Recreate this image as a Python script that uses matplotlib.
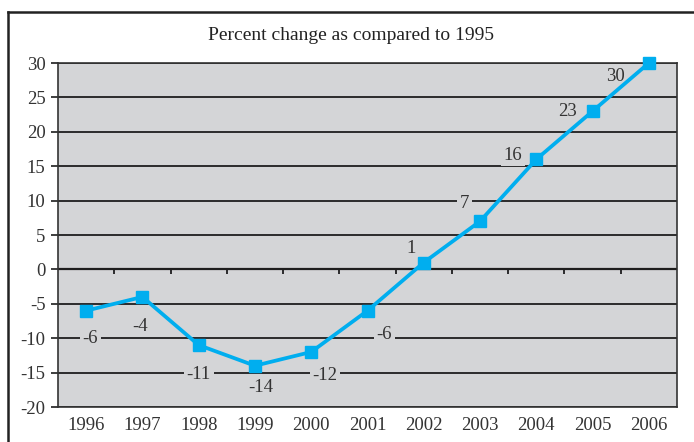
import matplotlib
matplotlib.use("Agg")
import matplotlib.pyplot as plt
from matplotlib.lines import Line2D

plt.rcParams['font.family'] = ['Liberation Serif', 'DejaVu Serif']
plt.rcParams['axes.unicode_minus'] = False

years = ['1996', '1997', '1998', '1999', '2000', '2001',
         '2002', '2003', '2004', '2005', '2006']
pct_change = [-6, -4, -11, -14, -12, -6, 1, 7, 16, 23, 30]
# where each value label sits relative to its marker (points)
label_offsets = [(3, -20), (-2, -21), (0, -21), (4, -16), (10, -17), (12, -17),
                 (-9, 10), (-11, 13), (-17, 3), (-18, 0), (-24, -10)]

bg = '#d4d5d7'
blue = '#00aeef'
dark = '#1e1e1e'
txt = '#333333'

fig = plt.figure(figsize=(6.94, 4.42), dpi=100)
fig.patch.set_facecolor('white')
ax = fig.add_axes([58 / 694, 35 / 442, 619 / 694, 344 / 442])
ax.set_facecolor(bg)

x = list(range(len(years)))
ax.set_xlim(-0.5, len(years) - 0.5)
ax.set_ylim(-20, 30)
ax.set_yticks(range(-20, 31, 5))
ax.set_xticks(x)
ax.set_xticklabels(years)
ax.tick_params(axis='x', length=0, pad=7, labelsize=13.5, colors=txt)
ax.tick_params(axis='y', length=5, width=1.2, color=dark, pad=4,
               labelsize=13.5, labelcolor=txt)

ax.set_axisbelow(True)
ax.grid(axis='y', color=dark, linewidth=1.3)
for s in ax.spines.values():
    s.set_color('#333333')
    s.set_linewidth(1.2)

# category ticks along the zero line
ax.axhline(0, color=dark, linewidth=1.6, zorder=1)
ax.vlines([i + 0.5 for i in x[:-1]], -0.7, 0, color=dark, linewidth=1.3, zorder=1)

ax.plot(x, pct_change, color=blue, linewidth=2.7, marker='s', markersize=8.5,
        markerfacecolor=blue, markeredgecolor=blue, zorder=4, clip_on=False)

for xi, v, off in zip(x, pct_change, label_offsets):
    ax.annotate(str(v), (xi, v), xytext=off, textcoords='offset points',
                ha='center', va='center', fontsize=13.5, color=txt,
                zorder=3,
                bbox=dict(boxstyle='square,pad=0.15', facecolor=bg, edgecolor='none'))

fig.text(351 / 694, 1 - 35 / 442, 'Percent change as compared to 1995',
         ha='center', va='center', fontsize=14, color='#222222')

# outer frame (left and top edges)
fig.add_artist(Line2D([8 / 694, 8 / 694], [0, 1 - 12 / 442], color='#222222',
                      linewidth=1.8, transform=fig.transFigure))
fig.add_artist(Line2D([8 / 694, 1], [1 - 12 / 442, 1 - 12 / 442], color='#222222',
                      linewidth=1.8, transform=fig.transFigure))

fig.savefig('out.png', dpi=100)
